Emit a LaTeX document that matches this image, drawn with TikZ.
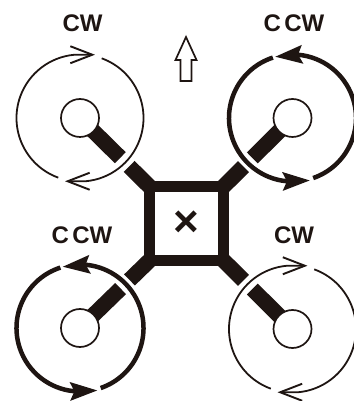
\documentclass[tikz,border=0pt]{standalone}
\usepackage{fontspec}
\setmainfont{Liberation Sans}
\usepackage{tikz}
\usetikzlibrary{arrows.meta,bending,calc}
\definecolor{ink}{HTML}{1E1512}
\tikzstyle{hub}=[circle, draw=ink, fill=white, inner sep=0pt, line width=1.7pt, minimum size=38pt]
\tikzstyle{frame}=[rectangle, draw=ink, inner sep=0pt, outer sep=0pt, line width=11pt, minimum size=74pt, text=ink, font=\fontsize{44}{44}\selectfont\bfseries]
\tikzstyle{arm}=[draw=ink, line width=15.5pt]
\tikzstyle{lab}=[inner sep=0pt, text=ink, font=\fontsize{24}{24}\selectfont\bfseries, execute at begin node={\spaceskip=3.5pt\relax}]
\tikzset{cw/.style={draw=ink, line width=1.8pt, -{Straight Barb[flex=0,length=22pt,width=17pt,line width=1.9pt]}},
  ccw/.style={draw=ink, line width=4.5pt, -{Stealth[flex=0,length=27pt,width=18pt,inset=4pt]}}}

\begin{document}
\begin{tikzpicture}[x=1pt,y=1pt]
    \useasboundingbox (0,0) rectangle (353,401);
    \coordinate (cTL) at (80,283);
    \coordinate (cTR) at (292.5,283);
    \coordinate (cBL) at (80,73);
    \coordinate (cBR) at (292.5,72);
    \node[frame] (body) at (186.5,177.5) {×};
    \draw[arm] (cTL) -- ($(cTL)!56.6pt!(body.north west)$);
    \draw[arm] ($(cTL)!69pt!(body.north west)$) -- (body.north west);
    \draw[arm] (cTR) -- ($(cTR)!56.6pt!(body.north east)$);
    \draw[arm] ($(cTR)!69pt!(body.north east)$) -- (body.north east);
    \draw[arm] (cBL) -- ($(cBL)!56.6pt!(body.south west)$);
    \draw[arm] ($(cBL)!69pt!(body.south west)$) -- (body.south west);
    \draw[arm] (cBR) -- ($(cBR)!56.6pt!(body.south east)$);
    \draw[arm] ($(cBR)!69pt!(body.south east)$) -- (body.south east);
    \node[hub] (hubTL) at (cTL) {};
    \node[hub] (hubTR) at (cTR) {};
    \node[hub] (hubBL) at (cBL) {};
    \node[hub] (hubBR) at (cBR) {};
    \draw[cw] (cTL)++(70:63.5) arc (70:-85:63.5) -- ++(-20.5,0);
    \draw[cw] (cTL)++(250:63.5) arc (250:95:63.5) -- ++(20.5,0);
    \draw[ccw] (cTR)++(108:63.5) arc (108:265:63.5) -- ++(2:23);
    \draw[ccw] (cTR)++(289:63.5) arc (289:445:63.5) -- ++(185:23);
    \draw[ccw] (cBL)++(108:63.5) arc (108:265:63.5) -- ++(2:23);
    \draw[ccw] (cBL)++(289:63.5) arc (289:445:63.5) -- ++(185:23);
    \draw[cw] (cBR)++(70:63.5) arc (70:-85:63.5) -- ++(-20.5,0);
    \draw[cw] (cBR)++(250:63.5) arc (250:95:63.5) -- ++(20.5,0);
    \draw[draw=ink, line width=1.7pt] (186,364) -- ++(10.5,-23) -- ++(-5,0) -- ++(0,-21) -- ++(-11,0) -- ++(0,21) -- ++(-5,0) -- cycle;
    \node[lab] (cwTL) at (82.5,378) {CW};
    \node[lab] (ccwTR) at (294,378) {C CW};
    \node[lab] (ccwBL) at (82,166) {C CW};
    \node[lab] (cwBR) at (294,166) {CW};
  \end{tikzpicture}
\end{document}
